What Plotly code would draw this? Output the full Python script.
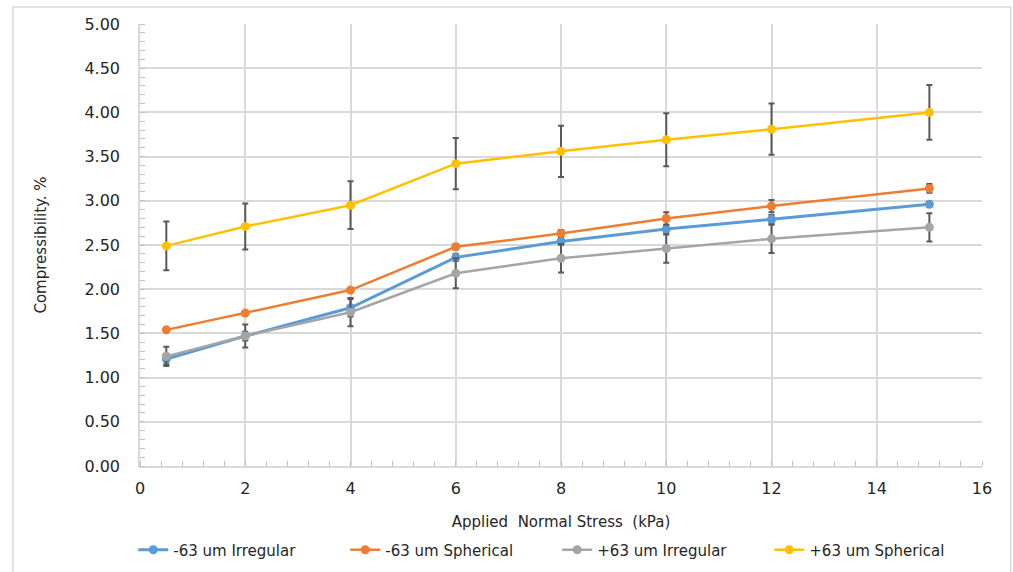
import plotly.graph_objects as go

# Applied normal stress (kPa)
stress = [0.5, 2, 4, 6, 8, 10, 12, 15]

# Compressibility (%) per powder fraction, with standard deviations
irr_minus63 = [1.21, 1.47, 1.79, 2.36, 2.54, 2.68, 2.79, 2.96]
irr_minus63_err = [0.06, 0.05, 0.10, 0.04, 0.04, 0.05, 0.05, 0.03]

sph_minus63 = [1.54, 1.73, 1.99, 2.48, 2.63, 2.80, 2.94, 3.14]
sph_minus63_err = [0.02, 0.02, 0.02, 0.03, 0.04, 0.07, 0.07, 0.05]

irr_plus63 = [1.24, 1.47, 1.74, 2.18, 2.35, 2.46, 2.57, 2.70]
irr_plus63_err = [0.11, 0.13, 0.16, 0.17, 0.16, 0.16, 0.16, 0.16]

sph_plus63 = [2.49, 2.71, 2.95, 3.42, 3.56, 3.69, 3.81, 4.00]
sph_plus63_err = [0.275, 0.26, 0.27, 0.29, 0.29, 0.30, 0.29, 0.31]

series_names = ["-63 um Irregular", "-63 um Spherical", "+63 um Irregular", "+63 um Spherical"]
series_colors = ["#5B9BD5", "#ED7D31", "#A5A5A5", "#FFC000"]
series_values = [irr_minus63, sph_minus63, irr_plus63, sph_plus63]
series_errors = [irr_minus63_err, sph_minus63_err, irr_plus63_err, sph_plus63_err]
line_widths = [3, 2.5, 2.5, 2.5]

x_ticks = [0, 2, 4, 6, 8, 10, 12, 14, 16]
y_ticks = [0, 0.5, 1.0, 1.5, 2.0, 2.5, 3.0, 3.5, 4.0, 4.5, 5.0]

FONT = "DejaVu Sans, Liberation Sans, sans-serif"
TEXT = "#262626"
GRID = "#d9d9d9"

fig = go.Figure()
for name, color, vals, errs, lw in zip(series_names, series_colors, series_values,
                                       series_errors, line_widths):
    fig.add_trace(go.Scatter(
        x=stress, y=vals, name=name, mode="lines+markers",
        line=dict(color=color, width=lw),
        marker=dict(color=color, size=9),
        error_y=dict(type="data", array=errs, visible=True,
                     color="#595959", thickness=2, width=3),
    ))

fig.update_layout(
    width=1013, height=572,
    margin=dict(l=140, r=31, t=24, b=106, autoexpand=False),
    paper_bgcolor="white", plot_bgcolor="white",
    font=dict(family=FONT, color=TEXT),
    legend=dict(orientation="h", x=-0.008, xanchor="left",
                y=-0.19, yanchor="middle", bgcolor="rgba(0,0,0,0)",
                font=dict(size=15, color=TEXT),
                entrywidth=167, itemwidth=30),
    showlegend=True,
    shapes=[dict(type="rect", xref="paper", yref="paper",
                 x0=-0.151, x1=1.034, y0=-0.35, y1=1.0385,
                 line=dict(color=GRID, width=1.5), layer="below")],
)

fig.update_xaxes(
    range=[0, 16], tickvals=x_ticks, ticktext=[str(v) for v in x_ticks],
    showgrid=True, gridcolor=GRID, gridwidth=1.5,
    showline=True, linecolor=GRID, linewidth=1.5, mirror=False,
    zeroline=False, ticks="", ticklabelstandoff=7,
    tickfont=dict(size=16, color=TEXT),
    minor=dict(dtick=0.4, ticks="inside", ticklen=5, tickcolor="#bfbfbf", showgrid=False),
    title=dict(text="Applied  Normal Stress  (kPa)", font=dict(size=15, color=TEXT),
               standoff=20),
)
fig.update_yaxes(
    range=[0, 5], tickvals=y_ticks, ticktext=[f"{v:.2f}" for v in y_ticks],
    showgrid=True, gridcolor=GRID, gridwidth=1.5,
    showline=True, linecolor=GRID, linewidth=1.5,
    zeroline=False, ticks="", ticklabelstandoff=15,
    tickfont=dict(size=16, color=TEXT),
    minor=dict(dtick=0.1, ticks="inside", ticklen=5, tickcolor="#bfbfbf", showgrid=False),
    title=dict(text="Compressibility. %", font=dict(size=15, color=TEXT), standoff=34),
)

fig.write_html("out.html")
